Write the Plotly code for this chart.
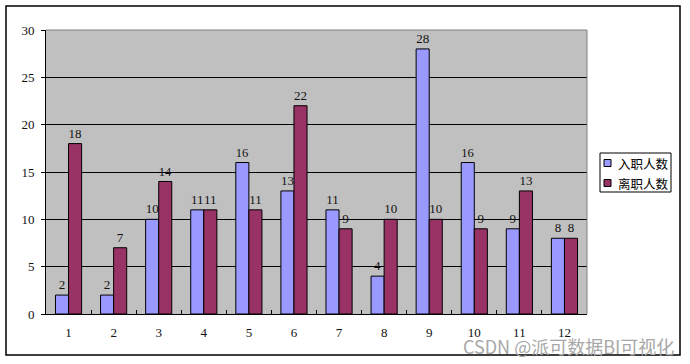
import plotly.graph_objects as go

categories = ["1", "2", "3", "4", "5", "6", "7", "8", "9", "10", "11", "12"]
hires = [2, 2, 10, 11, 16, 13, 11, 4, 28, 16, 9, 8]
leaves = [18, 7, 14, 11, 11, 22, 9, 10, 10, 9, 13, 8]
series_names = ["入职人数", "离职人数"]
series_colors = ["#9999FF", "#993366"]
y_ticks = [0, 5, 10, 15, 20, 25, 30]

num_font = dict(family="Liberation Serif, Times New Roman, serif", size=13, color="#111111")

fig = go.Figure()
for name, vals, col in zip(series_names, [hires, leaves], series_colors):
    fig.add_trace(go.Bar(x=categories, y=vals, name=name,
                         marker=dict(color=col, line=dict(color="#000000", width=1)),
                         text=vals, textposition="outside", textfont=num_font,
                         cliponaxis=False, showlegend=False))

L, R, T, B = 46, 587, 30, 314
W, H = 690, 364
pw, ph = R - L, B - T

def px(x):
    return (x - L) / pw

def py(y):
    return (B - y) / ph

shapes = [
    # outer chart border
    dict(type="rect", xref="paper", yref="paper",
         x0=px(6), x1=px(680), y0=py(355), y1=py(6),
         line=dict(color="#000000", width=1.5), fillcolor="rgba(0,0,0,0)", layer="below"),
    # plot area border top/right
    dict(type="line", xref="paper", yref="paper", x0=0, x1=1, y0=1, y1=1,
         line=dict(color="#808080", width=1)),
    dict(type="line", xref="paper", yref="paper", x0=1, x1=1, y0=0, y1=1,
         line=dict(color="#808080", width=1)),
    # legend box
    dict(type="rect", xref="paper", yref="paper",
         x0=px(600), x1=px(671), y0=py(192), y1=py(153),
         line=dict(color="#000000", width=1), fillcolor="white"),
]
annotations = [
    dict(text="CSDN @派可数据BI可视化", xref="paper", yref="paper",
         x=px(676), y=py(346), xanchor="right", yanchor="middle", showarrow=False,
         font=dict(family="Noto Sans CJK SC, sans-serif", size=18, color="#A8A8A8"))
]
row_y = [163, 183]
for name, col, ry in zip(series_names, series_colors, row_y):
    shapes.append(dict(type="rect", xref="paper", yref="paper",
                       x0=px(604), x1=px(611), y0=py(ry + 3.5), y1=py(ry - 3.5),
                       line=dict(color="#000000", width=1), fillcolor=col))
    annotations.append(dict(text=name, xref="paper", yref="paper",
                            x=px(616), y=py(ry), xanchor="left", yanchor="middle",
                            showarrow=False,
                            font=dict(family="Noto Sans CJK SC, sans-serif", size=12.5,
                                      color="#000000")))

fig.update_layout(
    width=W, height=H,
    margin=dict(l=L, r=W - R, t=T, b=H - B, pad=0, autoexpand=False),
    paper_bgcolor="white",
    plot_bgcolor="#C0C0C0",
    barmode="group",
    bargap=0.42,
    bargroupgap=0,
    showlegend=False,
    xaxis=dict(type="category", tickson="boundaries", ticks="inside", ticklen=4,
               tickcolor="#000000", showline=True, linecolor="#000000", linewidth=1,
               showgrid=False, tickfont=num_font, ticklabelstandoff=6, automargin=False),
    yaxis=dict(range=[0, 30], tickvals=y_ticks, ticks="outside", ticklen=4,
               tickcolor="#000000", showline=True, linecolor="#000000", linewidth=1,
               showgrid=True, gridcolor="#000000", gridwidth=1, zeroline=False,
               tickfont=num_font, ticklabelstandoff=4, automargin=False),
    shapes=shapes,
    annotations=annotations,
)

fig.write_html("out.html", config={"displayModeBar": False},
               post_script="document.body.style.margin='0';document.body.style.overflow='hidden';")
